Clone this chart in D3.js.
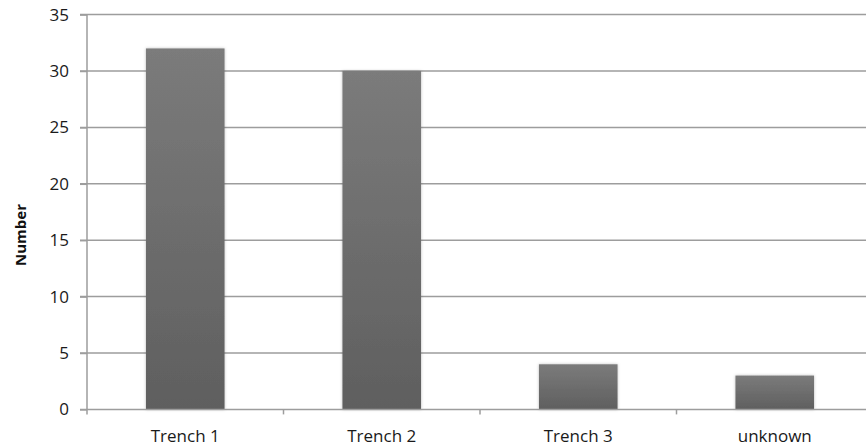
<!DOCTYPE html>
<html><head><meta charset="utf-8">
<script src="https://cdn.jsdelivr.net/npm/d3@7"></script>
<style>body{margin:0;background:#fff}svg{display:block}</style>
</head><body>
<svg id="chart" width="866" height="448"></svg>
<script>
const categories = ["Trench 1", "Trench 2", "Trench 3", "unknown"];
const values = [32, 30, 4, 3];
const yTicks = [0, 5, 10, 15, 20, 25, 30, 35];
const yTitle = "Number";

(function () {
const svg = d3.select("#chart");
const mLeft = 87, mRight = 873, mTop = 14.6, mBottom = 409.4;
const xb = d3.scaleBand().domain(categories).range([mLeft, mRight]);
const barW = xb.bandwidth() * 0.4;
const barX = d => xb(d) + xb.bandwidth() * 0.3;
const y = d3.scaleLinear().domain([0, 35]).range([mBottom, mTop]);
const font = "'Open Sans', sans-serif";

const defs = svg.append("defs");
const g = defs.append("linearGradient").attr("id", "bg").attr("x1", 0).attr("y1", 0).attr("x2", 0).attr("y2", 1);
g.append("stop").attr("offset", "0%").attr("stop-color", "#7b7b7b");
g.append("stop").attr("offset", "100%").attr("stop-color", "#5f5f5f");
const f = defs.append("filter").attr("id", "sh").attr("x", "-10%").attr("y", "-10%").attr("width", "120%").attr("height", "120%");
f.append("feDropShadow").attr("dx", 0).attr("dy", 0).attr("stdDeviation", 1.5).attr("flood-color", "#000").attr("flood-opacity", 0.25);

// grid
svg.append("g").selectAll("line").data(yTicks.filter(d => d > 0)).join("line")
  .attr("x1", mLeft - 7).attr("x2", 866).attr("y1", d => y(d)).attr("y2", d => y(d))
  .attr("stroke", "#9d9d9d").attr("stroke-width", 1.5);

// bars
svg.append("g").selectAll("rect").data(categories).join("rect")
  .attr("x", d => barX(d)).attr("width", barW)
  .attr("y", (d, i) => y(values[i])).attr("height", (d, i) => y(0) - y(values[i]))
  .attr("fill", "url(#bg)").attr("filter", "url(#sh)");

// y axis
const ya = svg.append("g").attr("transform", `translate(${mLeft},0)`)
  .call(d3.axisLeft(y).tickValues(yTicks).tickSize(7).tickPadding(11));
ya.select(".domain").remove();
ya.append("line").attr("x1", 0).attr("x2", 0).attr("y1", mTop).attr("y2", mBottom).attr("stroke", "#9d9d9d").attr("stroke-width", 1.5);
ya.selectAll(".tick line").attr("stroke", "#9d9d9d").attr("stroke-width", 1.5);
ya.selectAll(".tick text").attr("font-family", font).attr("font-size", 17).attr("fill", "#1a1a1a");

// x axis
svg.append("line").attr("x1", mLeft - 7).attr("x2", 866).attr("y1", mBottom).attr("y2", mBottom).attr("stroke", "#9d9d9d").attr("stroke-width", 1.5);
svg.append("g").selectAll("line").data(categories).join("line")
  .attr("x1", d => xb(d)).attr("x2", d => xb(d)).attr("y1", mBottom).attr("y2", mBottom + 5)
  .attr("stroke", "#9d9d9d").attr("stroke-width", 1.5);
svg.append("g").selectAll("text").data(categories).join("text")
  .attr("x", d => barX(d) + barW / 2).attr("y", 442)
  .attr("text-anchor", "middle").attr("font-family", font).attr("font-size", 17).attr("fill", "#1a1a1a")
  .text(d => d);

svg.append("text").attr("transform", `translate(26,${(mTop + mBottom) / 2 + 23}) rotate(-90)`)
  .attr("text-anchor", "middle").attr("font-family", font).attr("font-weight", "bold")
  .attr("font-size", 15).attr("fill", "#111").text(yTitle);
})();
</script>
</body></html>
